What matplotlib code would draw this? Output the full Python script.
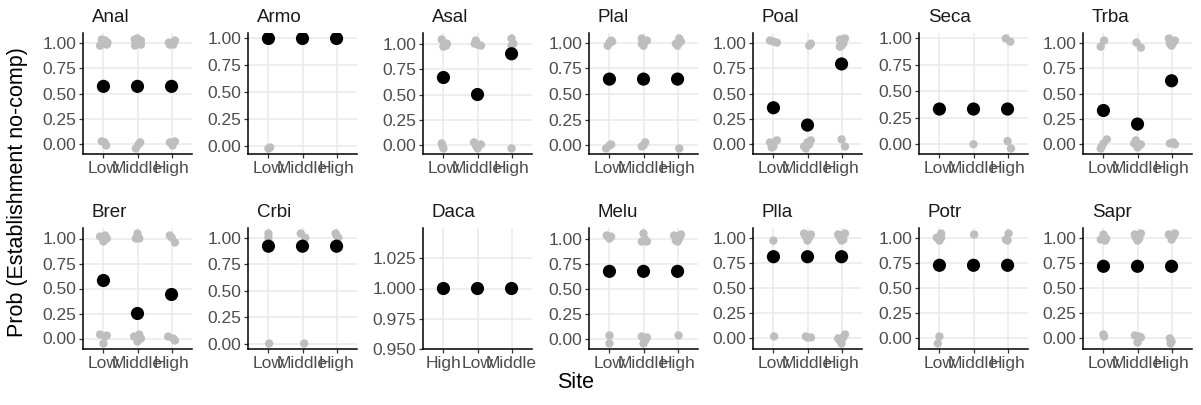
import matplotlib.pyplot as plt
from matplotlib.ticker import FormatStrFormatter

plt.rcParams["font.family"] = ["Liberation Sans", "DejaVu Sans"]

species = ["Anal", "Armo", "Asal", "Plal", "Poal", "Seca", "Trba",
           "Brer", "Crbi", "Daca", "Melu", "Plla", "Potr", "Sapr"]
default_sites = ["Low", "Middle", "High"]
daca_sites = ["High", "Low", "Middle"]

mean_prob = [
    [0.57, 0.57, 0.57], [1.0, 1.0, 1.0], [0.667, 0.5, 0.9], [0.645, 0.645, 0.645],
    [0.36, 0.19, 0.79], [0.333, 0.333, 0.333], [0.333, 0.2, 0.625],
    [0.58, 0.25, 0.44], [0.92, 0.92, 0.92], [1.0, 1.0, 1.0], [0.675, 0.675, 0.675],
    [0.81, 0.81, 0.81], [0.725, 0.725, 0.725], [0.715, 0.715, 0.715],
]

# jittered observations: (site, x jitter, y)
anal_pts = [("Low", -0.10, 0.97), ("Low", 0.05, 1.02), ("Low", 0.10, 0.98), ("Low", -0.05, 1.03),
            ("Low", 0.12, 1.00), ("Low", -0.05, 0.03), ("Low", 0.08, -0.01), ("Low", 0.03, 0.02),
            ("Middle", -0.08, 1.03), ("Middle", 0.10, 0.98), ("Middle", 0.00, 1.04),
            ("Middle", -0.07, 0.97), ("Middle", 0.10, 1.02), ("Middle", -0.05, -0.04),
            ("Middle", 0.08, 0.02), ("Middle", 0.03, 0.00),
            ("High", -0.08, 1.00), ("High", 0.10, 1.02), ("High", 0.05, 0.98), ("High", -0.05, 0.98),
            ("High", -0.05, 0.02), ("High", 0.10, 0.03), ("High", 0.03, -0.01)]
armo_pts = [("Low", 0.00, -0.02), ("Low", 0.05, -0.01)]
asal_pts = [("Low", -0.05, 1.04), ("Low", 0.08, 0.98), ("Low", 0.00, 0.97), ("Low", 0.10, 1.00),
            ("Low", -0.05, 0.02), ("Low", 0.00, -0.03), ("Low", -0.03, 0.00),
            ("Middle", -0.05, 1.03), ("Middle", 0.10, 0.98), ("Middle", 0.00, 0.99),
            ("Middle", -0.08, 1.00), ("Middle", -0.10, 0.03), ("Middle", 0.10, 0.01),
            ("Middle", 0.00, -0.03), ("Middle", -0.05, 0.00),
            ("High", 0.00, 1.05), ("High", 0.00, 0.98), ("High", 0.05, 1.00), ("High", 0.00, -0.03)]
plal_pts = [("Low", -0.05, 0.97), ("Low", 0.05, 1.02), ("Low", 0.00, 1.00), ("Low", 0.08, 1.01),
            ("Low", -0.10, -0.03), ("Low", 0.05, 0.01), ("Low", 0.00, 0.00),
            ("Middle", -0.05, 1.04), ("Middle", 0.10, 1.02), ("Middle", 0.00, 0.97),
            ("Middle", -0.05, 0.99), ("Middle", 0.05, 0.03), ("Middle", -0.05, -0.01),
            ("Middle", 0.00, 0.00),
            ("High", -0.05, 0.99), ("High", 0.10, 1.01), ("High", 0.05, 1.04), ("High", 0.00, 0.97),
            ("High", 0.05, -0.03)]
poal_pts = [("Low", -0.10, 1.02), ("Low", 0.10, 1.00), ("Low", 0.00, 1.01),
            ("Low", -0.10, 0.02), ("Low", 0.10, 0.04), ("Low", 0.00, -0.02), ("Low", -0.05, -0.03),
            ("Middle", 0.05, 0.97), ("Middle", 0.10, 0.99),
            ("Middle", -0.10, -0.02), ("Middle", 0.10, 0.04), ("Middle", 0.00, 0.02),
            ("Middle", -0.05, -0.04), ("Middle", 0.05, 0.00),
            ("High", -0.05, 1.03), ("High", 0.10, 1.04), ("High", 0.00, 0.97), ("High", 0.05, 0.99),
            ("High", -0.05, 0.96), ("High", 0.00, 0.05), ("High", 0.10, -0.02)]
seca_pts = [("Middle", 0.00, 0.00), ("High", -0.05, 1.00), ("High", 0.08, 0.97),
            ("High", 0.00, 0.03), ("High", 0.10, -0.04)]
trba_pts = [("Low", 0.02, 1.02), ("Low", -0.08, 0.96), ("Low", 0.10, 0.05), ("Low", -0.05, -0.02),
            ("Low", 0.00, 0.01), ("Low", -0.08, -0.04),
            ("Middle", -0.03, 1.00), ("Middle", 0.10, 0.95), ("Middle", -0.05, 0.04),
            ("Middle", 0.10, 0.00), ("Middle", 0.00, -0.03), ("Middle", -0.10, 0.01),
            ("High", -0.08, 1.04), ("High", 0.10, 1.02), ("High", 0.00, 0.97), ("High", 0.05, 1.00),
            ("High", -0.05, 0.99), ("High", -0.05, 0.01), ("High", 0.10, 0.00), ("High", 0.05, 0.02)]
brer_pts = [("Low", -0.10, 1.02), ("Low", 0.10, 1.00), ("Low", 0.00, 0.97), ("Low", 0.05, 1.03),
            ("Low", -0.10, 0.04), ("Low", 0.10, 0.03), ("Low", 0.00, -0.05), ("Low", 0.05, 0.02),
            ("Middle", 0.00, 1.05), ("Middle", 0.05, 1.00), ("Middle", -0.05, 1.00),
            ("Middle", -0.10, 0.02), ("Middle", 0.10, 0.00), ("Middle", 0.00, -0.03),
            ("Middle", 0.05, 0.04),
            ("High", -0.05, 1.03), ("High", 0.10, 0.96), ("High", 0.00, 1.01),
            ("High", -0.10, 0.02), ("High", 0.10, -0.02), ("High", 0.05, 0.00)]
crbi_pts = [("Low", 0.00, 1.04), ("Low", 0.00, 1.00), ("Low", 0.02, 0.00),
            ("Middle", -0.05, 1.04), ("Middle", 0.08, 1.00), ("Middle", 0.05, 0.00),
            ("High", -0.03, 1.04), ("High", 0.05, 1.00), ("High", 0.00, 1.02)]
daca_pts = []
melu_pts = [("Low", -0.08, 1.03), ("Low", 0.05, 1.02), ("Low", 0.00, 1.00),
            ("Low", 0.00, 0.04), ("Low", 0.00, -0.04),
            ("Middle", 0.00, 1.05), ("Middle", -0.05, 0.97), ("Middle", 0.10, 0.97),
            ("Middle", 0.05, 0.99), ("Middle", -0.05, 0.03), ("Middle", 0.10, 0.02),
            ("Middle", 0.00, -0.04), ("Middle", 0.05, -0.01),
            ("High", -0.10, 1.03), ("High", 0.10, 1.04), ("High", 0.00, 0.97), ("High", 0.05, 1.00),
            ("High", -0.05, 0.98), ("High", 0.03, 0.04)]
plla_pts = [("Low", 0.00, 0.97), ("Low", 0.02, 0.02),
            ("Middle", -0.10, 1.04), ("Middle", 0.10, 1.03), ("Middle", 0.00, 0.97),
            ("Middle", 0.05, 1.00), ("Middle", -0.05, 1.01), ("Middle", -0.05, 0.02),
            ("Middle", 0.10, 0.01), ("Middle", 0.00, 0.01),
            ("High", -0.10, 1.03), ("High", 0.10, 1.04), ("High", 0.00, 0.97), ("High", 0.05, 0.98),
            ("High", -0.05, 1.00), ("High", -0.10, 0.00), ("High", 0.10, 0.04), ("High", 0.00, -0.05),
            ("High", 0.05, 0.01), ("High", -0.05, -0.02)]
potr_pts = [("Low", -0.08, 1.00), ("Low", 0.05, 1.04), ("Low", 0.00, 0.97), ("Low", 0.05, 1.00),
            ("Low", 0.00, 0.02), ("Low", -0.05, -0.05), ("Middle", 0.02, 1.03),
            ("High", 0.03, 1.04), ("High", -0.05, 0.98), ("High", 0.00, 0.97)]
sapr_pts = [("Low", -0.08, 0.98), ("Low", 0.05, 0.97), ("Low", 0.00, 1.03), ("Low", 0.08, 0.99),
            ("Low", 0.00, 0.04), ("Low", 0.02, 0.02),
            ("Middle", -0.08, 1.03), ("Middle", 0.10, 1.04), ("Middle", 0.00, 0.97),
            ("Middle", 0.05, 0.99), ("Middle", -0.05, 1.00), ("Middle", -0.08, 0.03),
            ("Middle", 0.10, 0.01), ("Middle", 0.00, -0.04), ("Middle", 0.05, 0.02),
            ("High", -0.08, 1.03), ("High", 0.10, 1.04), ("High", 0.00, 0.98), ("High", 0.05, 1.01),
            ("High", -0.05, 0.00), ("High", 0.00, -0.03), ("High", -0.03, -0.05)]

jitter_pts = [anal_pts, armo_pts, asal_pts, plal_pts, poal_pts, seca_pts, trba_pts,
              brer_pts, crbi_pts, daca_pts, melu_pts, plla_pts, potr_pts, sapr_pts]

# panel layout in pixels
W, H = 1201, 405
col_left = [83, 248, 423, 589, 753, 919, 1083]
row_top = [33, 228]
pw, ph = 109, 121

fig = plt.figure(figsize=(W / 100, H / 100), dpi=100)

for i, sp in enumerate(species):
    r, c = divmod(i, 7)
    ax = fig.add_axes([col_left[c] / W, 1 - (row_top[r] + ph) / H, pw / W, ph / H])
    sites = daca_sites if sp == "Daca" else default_sites
    pos = {s: k + 1 for k, s in enumerate(sites)}

    ax.set_axisbelow(True)
    ax.grid(True, color="#EBEBEB", linewidth=1.2)
    if jitter_pts[i]:
        gx = [pos[s] + dx for s, dx, _ in jitter_pts[i]]
        gy = [y for _, _, y in jitter_pts[i]]
        ax.scatter(gx, gy, s=36, color="#BEBEBE", edgecolors="none", zorder=2)
    ax.scatter([1, 2, 3], mean_prob[i], s=90, color="black", edgecolors="none", zorder=3)

    ax.set_xlim(0.4, 3.6)
    ax.set_xticks([1, 2, 3])
    ax.set_xticklabels(sites)
    if sp == "Daca":
        ax.set_ylim(0.95, 1.05)
        ax.set_yticks([0.95, 0.975, 1.0, 1.025])
        ax.yaxis.set_major_formatter(FormatStrFormatter("%.3f"))
    else:
        ax.margins(y=0.05)
        ax.set_yticks([0, 0.25, 0.5, 0.75, 1.0])
        ax.yaxis.set_major_formatter(FormatStrFormatter("%.2f"))

    for side in ["top", "right"]:
        ax.spines[side].set_visible(False)
    for side in ["left", "bottom"]:
        ax.spines[side].set_linewidth(1.1)
        ax.spines[side].set_color("black")
    ax.tick_params(length=3, width=0.9, color="#333333", labelcolor="#4D4D4D",
                   labelsize=12.5, pad=2)
    ax.text(0.08, 1.06, sp, transform=ax.transAxes, fontsize=13.5, color="#1A1A1A",
            ha="left", va="bottom")

fig.text(576 / W, 1 - 382 / H, "Site", ha="center", va="center", fontsize=15.5)
fig.text(18 / W, 1 - 192 / H, "Prob (Establishment no-comp)", ha="center", va="center",
         rotation=90, fontsize=15.5)

plt.savefig("out.png", dpi=100)
